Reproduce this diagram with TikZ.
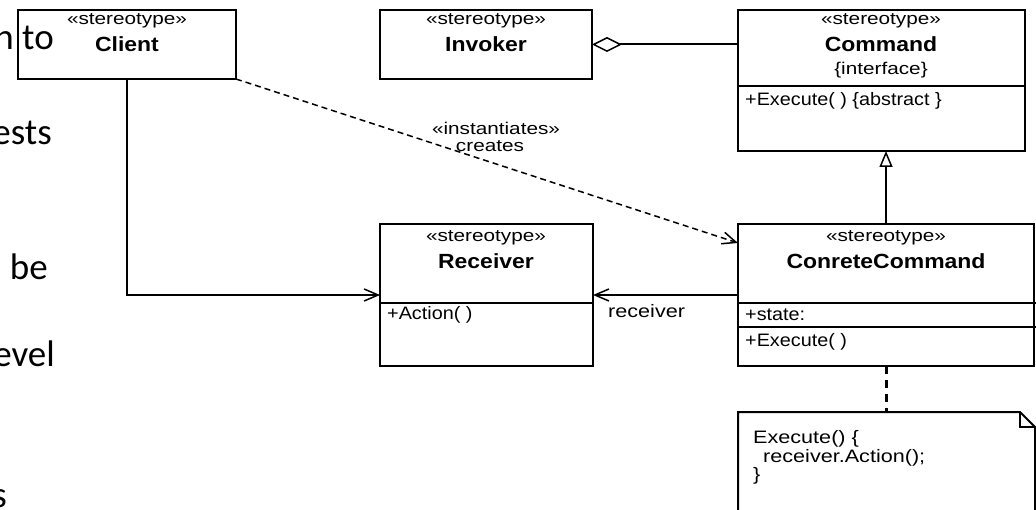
\documentclass[tikz,border=0pt]{standalone}
\usepackage{fontspec}
\usetikzlibrary{arrows.meta}
\newfontfamily\stfont[FakeStretch=1.22]{Liberation Sans}
\newfontfamily\nmfont[FakeStretch=1.12]{Liberation Sans}
\newfontfamily\mbfont[FakeStretch=1.1]{Liberation Sans}
\newfontfamily\ntfont[FakeStretch=1.2]{Liberation Sans}
\newfontfamily\bgfont{Carlito}
\tikzset{
  box/.style={draw, line width=2pt, rectangle, inner sep=0pt, outer sep=0pt, anchor=north west},
  st/.style={font=\stfont\fontsize{17}{19}\selectfont, inner sep=0pt, anchor=base},
  nm/.style={font=\nmfont\bfseries\fontsize{20.5}{22}\selectfont, inner sep=0pt, anchor=base},
  mb/.style={font=\mbfont\fontsize{18}{20}\selectfont, inner sep=0pt, anchor=base west},
  nt/.style={font=\ntfont\fontsize{18}{20}\selectfont, inner sep=0pt, anchor=base west},
  bg/.style={font=\bgfont\fontsize{37}{40}\selectfont, inner sep=0pt, anchor=base east},
  divider/.style={line width=2pt},
  conn/.style={line width=2pt},
  opena/.style={-{Straight Barb[length=14pt,width=12pt,line width=1.5pt]}},
  inherit/.style={-{Triangle[open,length=16pt,width=13pt,line width=1.5pt]}},
  aggr/.style={{Diamond[open,length=30pt,width=15pt,line width=1.5pt]}-},
  depend/.style={dash pattern=on 6pt off 4pt, line width=1.5pt},
  notelink/.style={dash pattern=on 8pt off 6pt, line width=3pt},
}
\begin{document}
\begin{tikzpicture}[x=1pt,y=-1pt]
\useasboundingbox (0,0) rectangle (1036,510);
% background slide text fragments
\node[bg] (bg1) at (54,50) {n to};
\node[bg] (bg2) at (52,145) {ests};
\node[bg] (bg3) at (48,280) {be};
\node[bg] (bg4) at (55,367) {evel};
\node[bg] (bg5) at (7,507) {s};
% boxes
\node[box, minimum width=218pt, minimum height=69pt] (client) at (18,10) {};
\node[box, minimum width=212pt, minimum height=69pt] (invoker) at (380,10) {};
\node[box, minimum width=287pt, minimum height=141pt] (command) at (738,10) {};
\node[box, minimum width=213pt, minimum height=142pt] (receiver) at (380,224) {};
\node[box, minimum width=296pt, minimum height=142pt] (cc) at (738,224) {};
% dividers
\draw[divider] (command.west |- 0,86) -- (command.east |- 0,86);
\draw[divider] (receiver.west |- 0,303) -- (receiver.east |- 0,303);
\draw[divider] (cc.west |- 0,303) -- (1036,303);
\draw[divider] (cc.west |- 0,327) -- (1036,327);
% texts
\node[st] (clst) at (127,25) {«stereotype»};
\node[nm] (clnm) at (127,52) {Client};
\node[st] (invst) at (486,25) {«stereotype»};
\node[nm] (invnm) at (486,52) {Invoker};
\node[st] (cmst) at (881,25) {«stereotype»};
\node[nm] (cmnm) at (881,52) {Command};
\node[st] (cmif) at (881,75) {\{interface\}};
\node[mb] (cmex) at (745,106) {+Execute( ) \{abstract \}};
\node[st] (rcst) at (486,242) {«stereotype»};
\node[nm] (rcnm) at (486,269) {Receiver};
\node[mb] (rcact) at (387,320) {+Action( )};
\node[st] (ccst) at (886,242) {«stereotype»};
\node[nm] (ccnm) at (886,269) {ConreteCommand};
\node[mb] (ccstate) at (745,321) {+state:};
\node[mb] (ccex) at (745,347) {+Execute( )};
% note
\draw[line width=2pt] (738,412) -- (1020,412) -- (1035,427) -- (1035,520) -- (738,520) -- cycle;
\draw[line width=2pt] (1020,412) -- (1020,427) -- (1035,427);
\coordinate (notetop) at (886,412);
\node[nt] (n1) at (753,443) {Execute() \{};
\node[nt] (n2) at (763,462) {receiver.Action();};
\node[nt] (n3) at (753,480) {\}};
% connectors
\draw[conn, opena] (client.south) |- (receiver.west);
\draw[conn, aggr] (invoker.east) -- (command.west |- invoker.east);
\draw[conn, opena] (cc.west) -- (receiver.east);
\node[nt] (rlab) at (608,318) {receiver};
\draw[depend, opena] (client.south east) -- ([yshift=-19pt]cc.north west);
\node[st] (inst) at (496,135) {«instantiates»};
\node[st] (crt) at (490,152) {creates};
\draw[conn, inherit] (cc.north) -- (cc.north |- command.south);
\draw[notelink] (cc.south) -- (notetop);
\end{tikzpicture}
\end{document}
